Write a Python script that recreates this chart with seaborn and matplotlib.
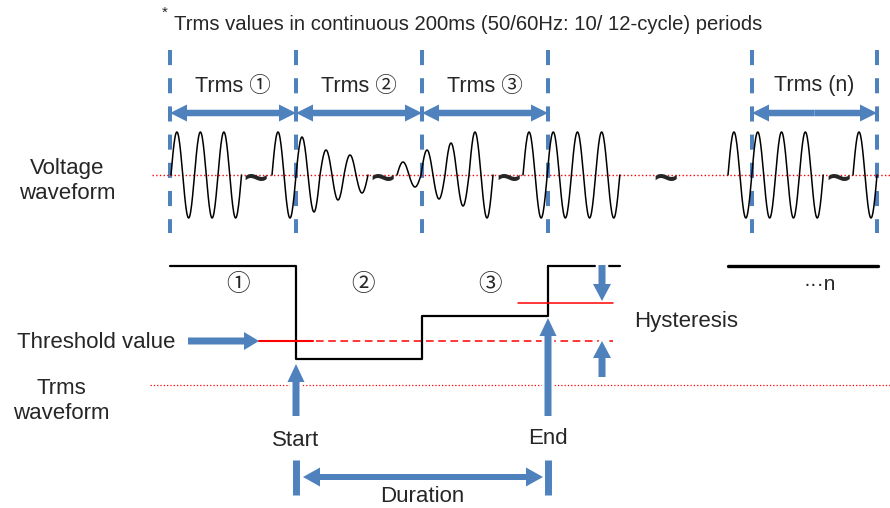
import numpy as np
import pandas as pd
import matplotlib.pyplot as plt
import seaborn as sns

# -----------------------------
# Diagram data (pixel coordinates of the 890x508 picture)
# -----------------------------
bounds = [170, 296, 422, 548, 752, 877]          # Trms window boundaries
seg_labels = ["Trms ①", "Trms ②", "Trms ③", "Trms (n)"]
seg_label_x = [233, 359, 485, 814]

# voltage waveform pieces: start x, half-cycle width, peak of each half cycle
wave_start = [171, 272, 397, 523, 728, 853]
wave_half = [11.75, 12, 12, 12.1, 11.9, 12]
wave_peaks = [
    [43, 43, 43, 43, 43, 43],
    [43, 43, 38, 37, 25, 25, 20, 18],
    [13, 12, 25, 24, 32, 31, 43, 43],
    [43, 43, 43, 43, 43, 43, 43, 43],
    [43, 43, 43, 43, 43, 43, 43, 43],
    [43, 43],
]
tilde_x = [256, 383, 509, 666, 839]
volt_zero = 175

# Trms levels per window (1, 2, 3, then held)
trms_level = [266, 359, 316, 266]
trms_tail_end = 620
trms_n = [728, 878]
trms_zero = 385
threshold = 341
hyst_upper = 303
window_nums = ["①", "②", "③"]
window_num_x = [238, 363, 490]

BLUE = "#4F81BD"

sns.set_theme(style="white")
plt.rcParams['font.family'] = ['Liberation Sans', 'Noto Sans CJK JP', 'DejaVu Sans']

fig = plt.figure(figsize=(8.9, 5.08), dpi=100)
ax = fig.add_axes([0, 0, 1, 1])
ax.set_xlim(0, 890)
ax.set_ylim(508, 0)
ax.axis("off")


def arrow(x0, y0, x1, y1, w=6, hw=17, hl=17, halo=False):
    kw = dict(width=w, head_width=hw, head_length=hl, length_includes_head=True)
    if halo:
        ax.arrow(x0, y0, x1 - x0, y1 - y0, fc="white", ec="white", lw=4, zorder=3, **kw)
    ax.arrow(x0, y0, x1 - x0, y1 - y0, fc=BLUE, ec="none", zorder=5, **kw)


def double_arrow(x0, x1, y, w=6, hw=17, hl=17):
    xm = (x0 + x1) / 2
    arrow(xm, y, x0, y, w, hw, hl)
    arrow(xm, y, x1, y, w, hw, hl)


# top note
ax.text(165, 13, "*", fontsize=11, ha="center", va="center")
ax.text(174, 30, "Trms values in continuous 200ms (50/60Hz: 10/ 12-cycle) periods",
        fontsize=14.6, ha="left", va="baseline")

# window guides and labels
ax.vlines(bounds, 50, 233, colors=BLUE, lw=2.9, linestyles=(0, (3.75, 3.25)), zorder=1)
for x, lab in zip(seg_label_x, seg_labels):
    ax.text(x, 86, lab, fontsize=15.5, ha="center", va="center")
for i in [0, 1, 2]:
    double_arrow(bounds[i], bounds[i + 1], 113, w=6.5)
double_arrow(bounds[4], bounds[5], 113, w=6.5)

# voltage waveform
ax.plot([152, 890], [volt_zero, volt_zero], color="red", lw=1.0, ls=":", zorder=1)
for x0, hp, peaks in zip(wave_start, wave_half, wave_peaks):
    xs, ys = [], []
    for k, a in enumerate(peaks):
        t = np.linspace(0, 1, 25)
        sign = 1 if k % 2 == 0 else -1
        xs.extend(x0 + (k + t) * hp)
        ys.extend(volt_zero - sign * a * np.sin(np.pi * t))
    df = pd.DataFrame({"x": xs, "y": ys})
    sns.lineplot(data=df, x="x", y="y", ax=ax, color="black", lw=1.1,
                 sort=False, estimator=None, zorder=2)
for x in tilde_x:
    ax.text(x, 181, "~", fontsize=30, fontweight="bold", ha="center", va="center")

ax.text(67, 181, "Voltage\nwaveform", fontsize=16, ha="center", va="center")

# Trms waveform
ax.plot([150, 890], [trms_zero, trms_zero], color="red", lw=0.9, ls=":", zorder=1)
step_x, step_y = [], []
for i in range(3):
    step_x += [bounds[i], bounds[i + 1]]
    step_y += [trms_level[i], trms_level[i]]
step_x += [bounds[3]]
step_y += [trms_level[3]]
step = pd.DataFrame({"x": step_x, "y": step_y})
sns.lineplot(data=step, x="x", y="y", ax=ax, color="black", lw=1.6,
             sort=False, estimator=None, zorder=4)
sns.lineplot(x=[bounds[3], trms_tail_end], y=[trms_level[3], trms_level[3]], ax=ax,
             color="black", lw=1.6, sort=False, estimator=None, zorder=2)
sns.lineplot(x=trms_n, y=[trms_level[0], trms_level[0]], ax=ax,
             color="black", lw=2.4, sort=False, estimator=None, zorder=2)

for x, lab in zip(window_num_x, window_nums):
    ax.text(x, 285, lab, fontsize=17, ha="center", va="center")
ax.text(820, 285, "···n", fontsize=15, ha="center", va="center")

# threshold and hysteresis
ax.plot([259, 313], [threshold, threshold], color="red", lw=1.5, zorder=6)
ax.plot([316, 613], [threshold, threshold], color="red", lw=1.1, ls=(0, (5, 3)), zorder=2)
ax.plot([518, 613], [hyst_upper, hyst_upper], color="red", lw=1.1, zorder=6)
arrow(188, threshold, 259, threshold, w=7, hw=18, hl=15)
arrow(602, 265, 602, hyst_upper - 2, w=7, hw=18, hl=17, halo=True)
arrow(602, 377, 602, threshold, w=7, hw=18, hl=17, halo=True)

ax.text(17, 342, "Threshold value", fontsize=16, ha="left", va="center")
ax.text(61, 401, "Trms\nwaveform", fontsize=16, ha="center", va="center")
ax.text(686, 322, "Hysteresis", fontsize=16, ha="center", va="center")

# start / end / duration
arrow(bounds[1], 416, bounds[1], trms_level[1] + 5, w=7, hw=17, hl=18, halo=True)
arrow(bounds[3], 416, bounds[3], trms_level[2] + 2, w=7, hw=17, hl=18, halo=True)
ax.text(bounds[1], 440, "Start", fontsize=16, ha="center", va="center")
ax.text(bounds[3], 438, "End", fontsize=16, ha="center", va="center")
ax.vlines([bounds[1], bounds[3]], 460, 495, colors=BLUE, lw=5)
double_arrow(bounds[1] + 7, bounds[3] - 5, 477, w=6, hw=19, hl=17)
ax.text(422, 496, "Duration", fontsize=16, ha="center", va="center")

plt.savefig("out.png", dpi=100)
